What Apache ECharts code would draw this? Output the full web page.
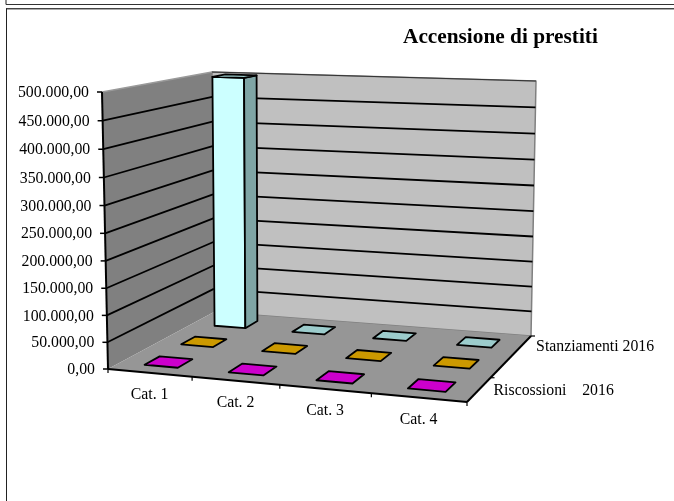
<!DOCTYPE html>
<html><head><meta charset="utf-8">
<style>html,body{margin:0;padding:0;background:#fff}#c{width:674px;height:501px}</style>
<script src="https://cdn.jsdelivr.net/npm/echarts@6/dist/echarts.min.js"></script>
</head><body><div id="c"></div>
<script>
const categories = ['Cat. 1', 'Cat. 2', 'Cat. 3', 'Cat. 4'];
const rowLabels = ['Riscossioni    2016', '', 'Stanziamenti 2016'];
const riscossioni = [0, 0, 0, 0];
const impegni = [0, 0, 0, 0];
const stanziamenti = [500000, 0, 0, 0];
const valueTicks = [0, 50000, 100000, 150000, 200000, 250000, 300000, 350000, 400000, 450000, 500000];
const tickLabels = ['0,00', '50.000,00', '100.000,00', '150.000,00', '200.000,00', '250.000,00', '300.000,00', '350.000,00', '400.000,00', '450.000,00', '500.000,00'];

const FONT = '"Liberation Serif","Times New Roman",serif';
const rowsData = [riscossioni, impegni, stanziamenti];
const rowColors = [
  {front: '#FF00FF', side: '#990099', top: '#CC00CC'},
  {front: '#FFCC00', side: '#997A00', top: '#CC9900'},
  {front: '#CCFFFF', side: '#7FA5A5', top: '#9CCCCC'}
];

// 3D box corners as seen on screen: floor and top planes (front-left, front-right, back-right, back-left)
const floorQuad = [[108, 369], [467, 402], [531, 336], [214, 312]];
const topQuad = [[102, 92], [469, 104], [536, 81], [212, 72]];
const VERTICAL_PERSPECTIVE = 0.96;

function homography(q) {
  const [x0, y0] = q[0], [x1, y1] = q[1], [x2, y2] = q[2], [x3, y3] = q[3];
  const dx1 = x1 - x2, dx2 = x3 - x2, sx = x0 - x1 + x2 - x3;
  const dy1 = y1 - y2, dy2 = y3 - y2, sy = y0 - y1 + y2 - y3;
  const den = dx1 * dy2 - dx2 * dy1;
  const g = (sx * dy2 - dx2 * sy) / den, h = (dx1 * sy - sx * dy1) / den;
  const a = x1 - x0 + g * x1, b = x3 - x0 + h * x3, d = y1 - y0 + g * y1, e = y3 - y0 + h * y3;
  return (u, v) => {
    const k = g * u + h * v + 1;
    return [(a * u + b * v + x0) / k, (d * u + e * v + y0) / k];
  };
}
const floorH = homography(floorQuad), topH = homography(topQuad);
function project(u, v, w) {
  const p = floorH(u, v), q = topH(u, v);
  const t = w * VERTICAL_PERSPECTIVE / (w * VERTICAL_PERSPECTIVE + 1 - w);
  return [p[0] + (q[0] - p[0]) * t, p[1] + (q[1] - p[1]) * t];
}
function poly(points, fill, stroke, lw) {
  return {type: 'polygon', shape: {points}, style: {fill: fill, stroke: stroke || null, lineWidth: lw || 0, lineJoin: 'round'}};
}
function line(a, b, stroke, lw) {
  return {type: 'line', shape: {x1: a[0], y1: a[1], x2: b[0], y2: b[1]}, style: {stroke, lineWidth: lw}};
}
function text(str, x, y, align, size) {
  return {type: 'text', style: {text: str, x, y, align, verticalAlign: 'middle', fill: '#000', font: (size || 15.8) + 'px ' + FONT}};
}
function wFrom(params, api, value) {
  const cs = params.coordSys;
  return (cs.y + cs.height - api.coord([0, value])[1]) / cs.height;
}

function renderWalls() {
  return {type: 'group', children: [
    poly([project(0,0,0), project(0,1,0), project(0,1,1), project(0,0,1)], '#808080'),
    poly([project(0,1,0), project(1,1,0), project(1,1,1), project(0,1,1)], '#C0C0C0', '#808080', 1.5),
    poly([project(0,0,0), project(1,0,0), project(1,1,0), project(0,1,0)], '#969696'),
    line(project(0,0,1), project(0,1,1), '#9a9a9a', 1.5)
  ]};
}
function renderTick(params, api) {
  const val = api.value(1), w = wFrom(params, api, val);
  const a = project(0,0,w), b = project(0,1,w), c = project(1,1,w);
  const isTop = val === valueTicks[valueTicks.length - 1];
  const kids = [];
  if (val > 0) {
    if (!isTop) kids.push(line(a, b, '#000', 1.8));
    kids.push(line(b, c, isTop ? '#333' : '#000', isTop ? 1.2 : 1.8));
  }
  kids.push(line([a[0] - 5, a[1]], a, '#000', 1.5));
  kids.push(text(tickLabels[params.dataIndex], a[0] - 13, a[1] + 1, 'right'));
  return {type: 'group', children: kids};
}
function renderEdges() {
  const kids = [
    line(project(0,0,0), project(0,0,1), '#000', 2),
    line(project(0,0,0), project(1,0,0), '#000', 2),
    line(project(1,0,0), project(1,1,0), '#000', 2)
  ];
  categories.forEach((_, i) => {
    const p = project((i + 1) / categories.length, 0, 0);
    kids.push(line(p, [p[0], p[1] + 4], '#000', 1.2));
  });
  const p0 = project(0,0,0);
  kids.push(line(p0, [p0[0], p0[1] + 4], '#000', 1.2));
  [1, 3].forEach(r => {
    const p = project(1, r / rowsData.length, 0);
    kids.push(line(p, [p[0] + 4, p[1]], '#000', 1.2));
  });
  rowLabels.forEach((name, r) => {
    if (!name) return;
    const p = project(1, (r + 0.5) / rowsData.length, 0);
    kids.push(text(name, p[0] + 14.5, p[1] + 1.5, 'left'));
  });
  return {type: 'group', children: kids};
}
function renderCatLabel(params, api) {
  const cs = params.coordSys;
  const u = (api.coord([api.value(0), 0])[0] - cs.x) / cs.width;
  const p = project(u, 0, 0);
  return text(categories[params.dataIndex], p[0], p[1] + 22, 'center');
}
const BAR_FRACTION = 0.4;
function barRenderer(rowIndex) {
  return function (params, api) {
    const cs = params.coordSys;
    const pt = api.coord([api.value(0), api.value(1)]);
    const uc = (pt[0] - cs.x) / cs.width;
    const du = api.size([1, 0])[0] / cs.width * BAR_FRACTION / 2;
    const w = (cs.y + cs.height - pt[1]) / cs.height;
    const n = rowsData.length;
    const v0 = (rowIndex + 0.5 - BAR_FRACTION / 2) / n, v1 = (rowIndex + 0.5 + BAR_FRACTION / 2) / n;
    const u0 = uc - du, u1 = uc + du;
    const col = rowColors[rowIndex];
    const kids = [];
    if (w > 0) {
      kids.push(poly([project(u0,v0,0), project(u1,v0,0), project(u1,v0,w), project(u0,v0,w)], col.front, '#000', 1.8));
      kids.push(poly([project(u1,v0,0), project(u1,v1,0), project(u1,v1,w), project(u1,v0,w)], col.side, '#000', 1.8));
    }
    kids.push(poly([project(u0,v0,w), project(u1,v0,w), project(u1,v1,w), project(u0,v1,w)], col.top, '#000', 1.8));
    return {type: 'group', children: kids};
  };
}

const frame = [
  {x1: 6, y1: 0, x2: 6, y2: 4.5, c: '#222', lw: 1},
  {x1: 6, y1: 4.5, x2: 674, y2: 4.5, c: '#333', lw: 1},
  {x1: 6, y1: 8.5, x2: 674, y2: 8.5, c: '#444', lw: 1},
  {x1: 6, y1: 9.5, x2: 674, y2: 9.5, c: '#aaa', lw: 1},
  {x1: 6.5, y1: 8.5, x2: 6.5, y2: 501, c: '#222', lw: 1}
];

const series = [
  {type: 'custom', silent: true, coordinateSystem: 'cartesian2d', renderItem: renderWalls, data: [[0, 0]], z: 1},
  {type: 'custom', silent: true, coordinateSystem: 'cartesian2d', renderItem: renderTick, data: valueTicks.map(v => [0, v]), z: 2},
  {type: 'custom', silent: true, coordinateSystem: 'cartesian2d', renderItem: renderEdges, data: [[0, 0]], z: 3},
  {type: 'custom', silent: true, coordinateSystem: 'cartesian2d', renderItem: renderCatLabel, data: categories.map((c, i) => [i, 0]), z: 3}
];
rowsData.map((vals, r) => r).reverse().forEach(r => {
  series.push({type: 'custom', silent: true, coordinateSystem: 'cartesian2d', renderItem: barRenderer(r),
    data: rowsData[r].map((v, i) => [i, v]), z: 4});
});

const chart = echarts.init(document.getElementById('c'));
chart.setOption({
  animation: false,
  backgroundColor: '#fff',
  title: {text: 'Accensione di prestiti', left: 398, top: 22, textStyle: {fontFamily: FONT, fontWeight: 'bold', fontSize: 21.3, color: '#000'}},
  grid: {left: 108, right: 207, top: 92, bottom: 132},
  xAxis: {type: 'category', data: categories, show: false},
  yAxis: {type: 'value', min: 0, max: 500000, interval: 50000, show: false},
  graphic: frame.map(f => ({type: 'line', shape: {x1: f.x1, y1: f.y1, x2: f.x2, y2: f.y2}, style: {stroke: f.c, lineWidth: f.lw}, silent: true})),
  series
});
</script></body></html>
